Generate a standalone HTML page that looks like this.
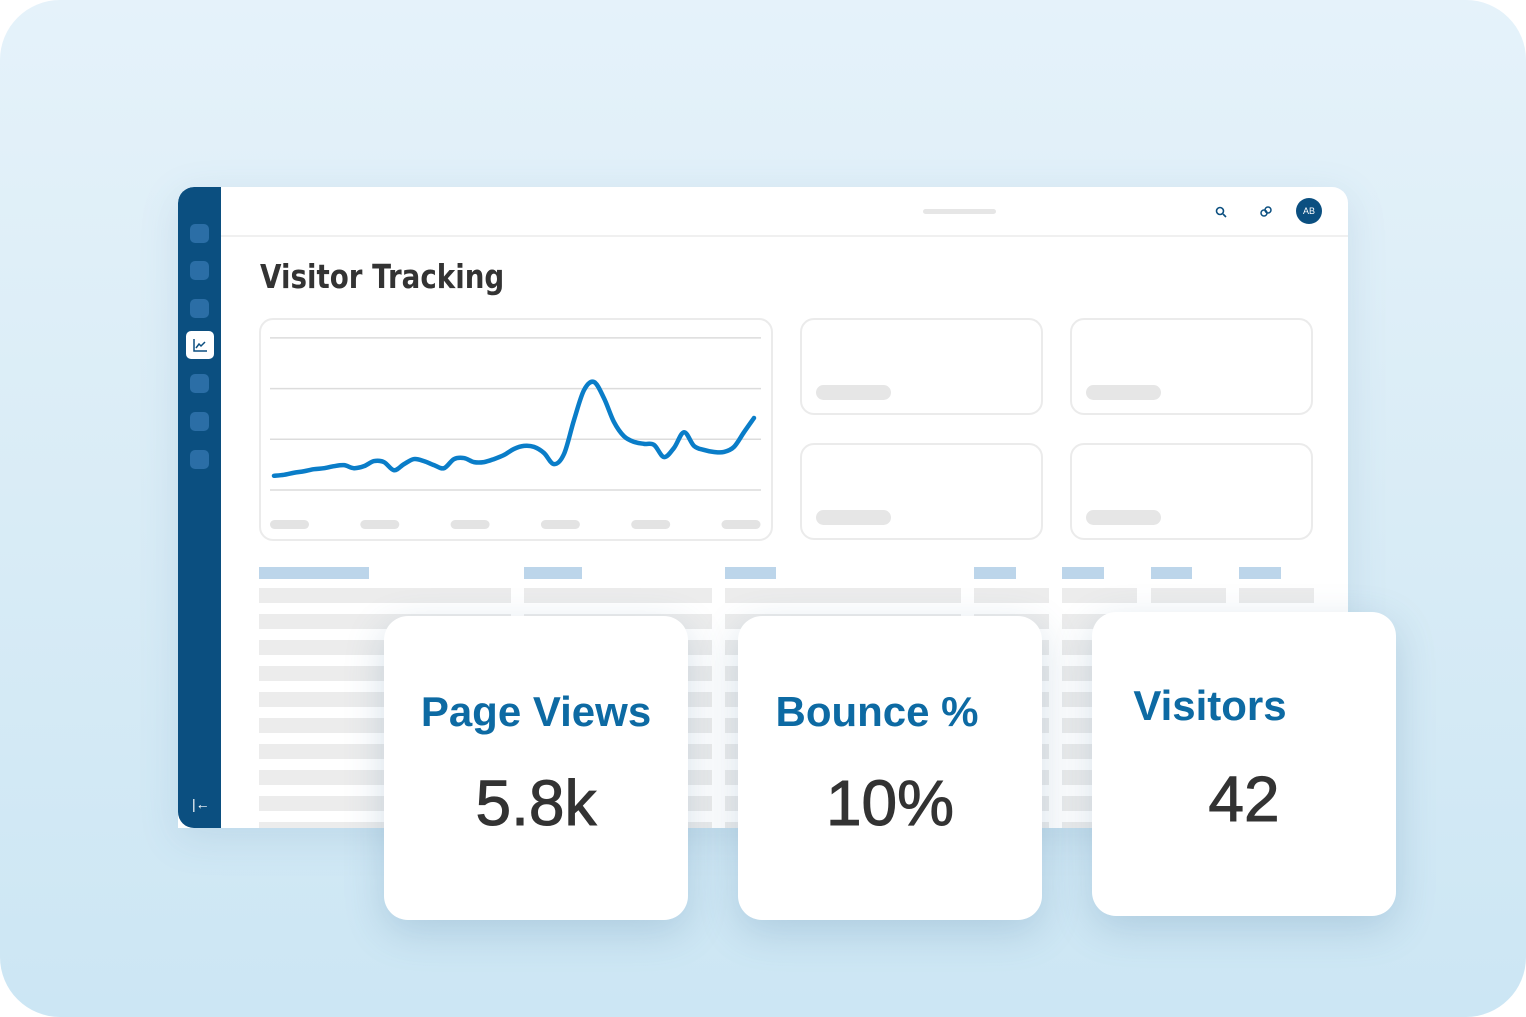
<!DOCTYPE html>
<html><head><meta charset="utf-8"><style>
body{margin:0;width:1526px;height:1017px;background:#fff;overflow:hidden;font-family:"Liberation Sans",sans-serif}
.bg{position:absolute;left:0;top:0;width:1526px;height:1017px;border-radius:60px;background:linear-gradient(180deg,#e5f2fa 0%,#d9ecf6 50%,#cce6f4 100%)}
.abs{position:absolute}
.panel{left:178px;top:187px;width:1170px;height:641px;background:#fff;border-radius:16px 16px 0 0;overflow:hidden;box-shadow:0 10px 40px rgba(80,130,170,.15)}
.side{left:0;top:0;width:43px;height:641px;background:#0b4f80;border-radius:16px 0 0 16px}
.sq{width:19px;height:19px;border-radius:5px;background:#2b6ea6;left:12px}
.card{background:#fff;border:2px solid #ebebeb;border-radius:14px;box-sizing:border-box}
.pill{background:#e6e6e6;border-radius:8px}
.th{background:#bcd5ea;height:12px;top:380px}
.row{background:#ececec;height:15px}
.stat{background:#fff;border-radius:24px;width:304px;height:304px;box-shadow:0 12px 40px rgba(60,110,150,.22);text-align:center}
.lbl{color:#0d6aa3;font-size:42px;font-weight:bold;position:absolute;width:100%;top:72px}
.val{color:#333;font-size:64px;position:absolute;width:100%;top:150px;-webkit-text-stroke:1px #333}
</style></head><body>
<div class="bg"></div>
<div class="abs panel">
 <div class="abs side">
  <div class="abs sq" style="top:37px"></div>
  <div class="abs sq" style="top:74px"></div>
  <div class="abs sq" style="top:112px"></div>
  <div class="abs" style="left:8px;top:144px;width:28px;height:28px;background:#fff;border-radius:5px">
   <svg width="28" height="28"><path d="M8 8V20H21" stroke="#0b4f80" stroke-width="1.5" fill="none"/><path d="M10 17L13 13L15 15L19 11" stroke="#0b4f80" stroke-width="1.5" fill="none"/></svg></div>
  <div class="abs sq" style="top:187px"></div>
  <div class="abs sq" style="top:225px"></div>
  <div class="abs sq" style="top:263px"></div>
  <div class="abs" style="left:14px;top:609px;color:#fff;font-size:14px">|←</div>
 </div>
 <div class="abs" style="left:43px;top:48px;width:1127px;height:2px;background:#f0f0f0"></div>
 <div class="abs pill" style="left:745px;top:22px;width:73px;height:5px"></div>
 <svg class="abs" style="left:1035px;top:17px" width="16" height="16"><circle cx="7" cy="7" r="3.5" stroke="#0b4f80" stroke-width="1.6" fill="none"/><path d="M10 10L13 13" stroke="#0b4f80" stroke-width="1.6"/></svg>
 <svg class="abs" style="left:1080px;top:17px" width="16" height="16"><circle cx="6" cy="9" r="3" stroke="#0b4f80" stroke-width="1.5" fill="none"/><circle cx="10" cy="6" r="3" stroke="#0b4f80" stroke-width="1.5" fill="none"/></svg>
 <div class="abs" style="left:1118px;top:11px;width:26px;height:26px;border-radius:50%;background:#0b4f80;color:#fff;font-size:9px;line-height:26px;text-align:center">AB</div>
 <div class="abs" style="left:82px;top:70px;font-size:33px;color:#333;font-weight:bold;font-family:'DejaVu Sans',sans-serif;transform:scaleX(.84);transform-origin:left">Visitor Tracking</div>
 <div class="abs card" style="left:81px;top:131px;width:514px;height:223px"></div>
 <div class="abs card" style="left:622px;top:131px;width:243px;height:97px"><div class="abs pill" style="left:14px;top:65px;width:75px;height:15px"></div></div>
 <div class="abs card" style="left:892px;top:131px;width:243px;height:97px"><div class="abs pill" style="left:14px;top:65px;width:75px;height:15px"></div></div>
 <div class="abs card" style="left:622px;top:256px;width:243px;height:97px"><div class="abs pill" style="left:14px;top:65px;width:75px;height:15px"></div></div>
 <div class="abs card" style="left:892px;top:256px;width:243px;height:97px"><div class="abs pill" style="left:14px;top:65px;width:75px;height:15px"></div></div>
 <div id="table"></div>
</div>
<svg class="abs" id="chart" style="left:0;top:0" width="1526" height="1017"></svg>
<div class="abs stat" style="left:384px;top:616px"><div class="lbl">Page Views</div><div class="val">5.8k</div></div>
<div class="abs stat" style="left:738px;top:616px"><div class="lbl" style="left:-13px">Bounce %</div><div class="val">10%</div></div>
<div class="abs stat" style="left:1092px;top:612px"><div class="lbl" style="left:-34px;top:70px">Visitors</div><div class="val">42</div></div>
<script>
const values=[28,30,34,37,41,43,47,49,43,47,57,55,39,51,61,57,49,43,61,63,55,55,61,69,81,87,85,73,51,71,138,197,213,181,134,106,95,91,89,65,83,114,87,79,75,75,85,114,142];
const gridTicks=[0,100,200,300];
const xLabels=["","","","","",""];
const NS="http://www.w3.org/2000/svg";
const svg=document.getElementById('chart');
const X0=274,X1=754,Y0=490,PX=50.7/100;
const xs=i=>X0+(X1-X0)*i/(values.length-1);
const ys=v=>Y0-v*PX;
gridTicks.forEach(t=>{const l=document.createElementNS(NS,'line');


l.setAttribute('x1',270);l.setAttribute('x2',761);l.setAttribute('y1',ys(t));l.setAttribute('y2',ys(t));l.setAttribute('stroke','#dcdcdc');l.setAttribute('stroke-width','1.5');svg.appendChild(l);});
xLabels.forEach((s,i)=>{const r=document.createElementNS(NS,'rect');


r.setAttribute('x',270+i*90.3);r.setAttribute('y',520);r.setAttribute('width',39);r.setAttribute('height',9);r.setAttribute('rx',4.5);r.setAttribute('fill','#e3e3e3');svg.appendChild(r);});
const P=values.map((v,i)=>[xs(i),ys(v)]);
let d='M'+P[0];
for(let i=0;i<P.length-1;i++){const p0=P[i-1]||P[i],p1=P[i],p2=P[i+1],p3=P[i+2]||p2;
d+=` C${p1[0]+(p2[0]-p0[0])/6},${p1[1]+(p2[1]-p0[1])/6} ${p2[0]-(p3[0]-p1[0])/6},${p2[1]-(p3[1]-p1[1])/6} ${p2[0]},${p2[1]}`;}
const path=document.createElementNS(NS,'path');


path.setAttribute('d',d);path.setAttribute('fill','none');path.setAttribute('stroke','#0a7dc8');path.setAttribute('stroke-width','4.5');path.setAttribute('stroke-linecap','round');path.setAttribute('stroke-linejoin','round');svg.appendChild(path);
const cols=[[81,252,110],[346,188,58],[547,236,51],[796,75,42],[884,75,42],[973,75,41],[1061,75,42]];
const tb=document.getElementById('table');
let h='';
cols.forEach(c=>{h+=`<div class="abs th" style="left:${c[0]}px;width:${c[2]}px"></div>`;
for(let r=0;r<10;r++)h+=`<div class="abs row" style="left:${c[0]}px;width:${c[1]}px;top:${401+r*26}px"></div>`;});
tb.innerHTML=h;
</script>
</body></html>
